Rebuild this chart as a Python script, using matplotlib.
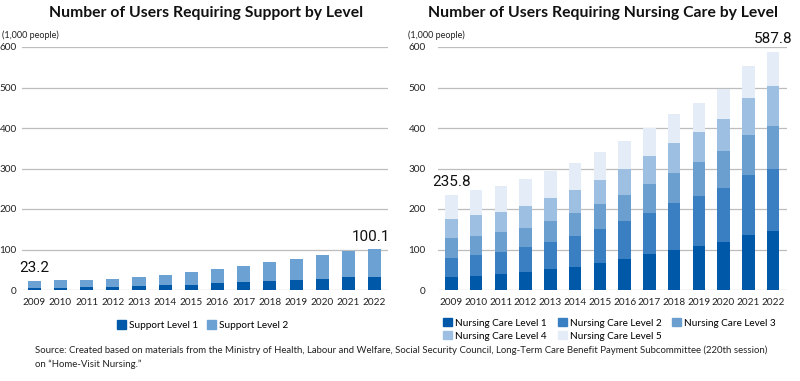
import numpy as np
import matplotlib
matplotlib.use("Agg")
from matplotlib import pyplot as plt
from matplotlib.patches import Patch

plt.rcParams['font.family'] = ['Lato', 'DejaVu Sans']

# dane (tys. osob)
years = ["2009", "2010", "2011", "2012", "2013", "2014", "2015",
         "2016", "2017", "2018", "2019", "2020", "2021", "2022"]

support_1 = [6, 6, 7.5, 8.3, 10, 11.7, 13.3, 16.7, 20, 22.5, 25, 27.5, 31.7, 33.3]
support_total = [23.2, 24.5, 25.5, 27.5, 32.5, 37.5, 45, 51.7, 60, 69, 77.5, 86.7, 97.5, 100.1]
support_2 = [t - a for t, a in zip(support_total, support_1)]

# wartosci skumulowane
care_cum1 = [31, 35, 39, 44, 51, 58, 66, 76, 88, 100, 108, 119, 137, 145]
care_cum2 = [80, 86, 95, 106, 119, 133, 150, 170, 191, 215, 233, 253, 285, 300]
care_cum3 = [128, 134, 142, 154, 171, 189, 212, 235, 261, 290, 315, 342, 383, 405]
care_cum4 = [176, 184, 192, 207, 226, 248, 272, 300, 330, 363, 390, 422, 474, 504]
care_total = [235.8, 247, 258, 275, 294, 314, 341, 368, 401, 435, 462, 496, 554, 587.8]

care_levels = [
    np.array(care_cum1),
    np.array(care_cum2) - np.array(care_cum1),
    np.array(care_cum3) - np.array(care_cum2),
    np.array(care_cum4) - np.array(care_cum3),
    np.array(care_total) - np.array(care_cum4),
]
care_names = ["Nursing Care Level 1", "Nursing Care Level 2", "Nursing Care Level 3",
              "Nursing Care Level 4", "Nursing Care Level 5"]
care_colors = ["#0058a8", "#3a7fc2", "#6a9fcf", "#9dc0e2", "#e4edf7"]
support_names = ["Support Level 1", "Support Level 2"]
support_colors = ["#0058a8", "#6ba1d3"]

W, H = 800, 381
fig = plt.figure(figsize=(W / 100, H / 100), dpi=100)


def px_axes(x0, x1, y_top, y_bot):
    return fig.add_axes([x0 / W, 1 - y_bot / H, (x1 - x0) / W, (y_bot - y_top) / H])


def styl(ax, pad):
    ax.set_ylim(0, 600)
    ax.set_yticks(range(0, 601, 100))
    ax.grid(axis="y", color="#bdbdbd", lw=0.9)
    ax.set_axisbelow(True)
    for s in ax.spines.values():
        s.set_visible(False)
    ax.tick_params(axis="both", length=0, labelsize=7.2, colors="#222222")
    ax.tick_params(axis="y", pad=pad)
    ax.tick_params(axis="x", pad=6)
    ax.set_xticks(range(len(years)))
    ax.set_xticklabels(years)


x = np.arange(len(years))

# lewy wykres
ax1 = px_axes(21.7, 387.7, 47, 290)
ax1.bar(x, support_1, width=0.5, color=support_colors[0])
ax1.bar(x, support_2, width=0.5, bottom=support_1, color=support_colors[1])
ax1.set_xlim(-0.48, 13.5)
styl(ax1, 3.5)
ax1.annotate("23.2", (0, support_total[0]), xytext=(0, 4), textcoords="offset points",
             ha="center", va="bottom", fontsize=11, family="Roboto", color="#111111")
ax1.annotate("100.1", (13, support_total[-1]), xytext=(-3, 4), textcoords="offset points",
             ha="center", va="bottom", fontsize=11, family="Roboto", color="#111111")

# prawy wykres
ax2 = px_axes(437.7, 786.7, 47, 290)
bottom = np.zeros(len(years))
for vals, col in zip(care_levels, care_colors):
    ax2.bar(x, vals, width=0.5, bottom=bottom, color=col)
    bottom = bottom + vals
ax2.set_xlim(-0.55, 13.55)
styl(ax2, 8.5)
ax2.annotate("235.8", (0, care_total[0]), xytext=(0, 4), textcoords="offset points",
             ha="center", va="bottom", fontsize=11, family="Roboto", color="#111111")
ax2.annotate("587.8", (13, care_total[-1]), xytext=(0, 4.5), textcoords="offset points",
             ha="center", va="bottom", fontsize=11, family="Roboto", color="#111111")

# tytuly i opisy
fig.text(205.8 / W, 1 - 12.7 / H, "Number of Users Requiring Support by Level",
         ha="center", va="center", fontsize=11.3, fontweight="bold", color="#111111")
fig.text(603 / W, 1 - 12.7 / H, "Number of Users Requiring Nursing Care by Level",
         ha="center", va="center", fontsize=11.3, fontweight="bold", color="#111111")
fig.text(2 / W, 1 - 35 / H, "(1,000 people)", ha="left", va="center", fontsize=6.5, color="#222222")
fig.text(408.3 / W, 1 - 35 / H, "(1,000 people)", ha="left", va="center", fontsize=6.5, color="#222222")

# legendy
h1 = [Patch(color=c) for c in support_colors]
fig.legend(h1, support_names, loc="center", bbox_to_anchor=(203 / W, 1 - 325 / H), ncol=2,
           frameon=False, fontsize=7.2, handlelength=0.9, handleheight=0.9,
           handletextpad=0.3, columnspacing=0.9)
h2 = [Patch(color=c) for c in care_colors]
order = [0, 3, 1, 4, 2]
fig.legend([h2[i] for i in order], [care_names[i] for i in order], loc="upper left",
           bbox_to_anchor=(436 / W, 1 - 311 / H), ncol=3, frameon=False, fontsize=7.2,
           handlelength=0.9, handleheight=0.9, handletextpad=0.3, columnspacing=1.1,
           labelspacing=0.35, borderpad=0.2)

fig.text(35 / W, 1 - 350.7 / H,
         "Source: Created based on materials from the Ministry of Health, Labour and Welfare, "
         "Social Security Council, Long-Term Care Benefit Payment Subcommittee (220th session)",
         ha="left", va="center", fontsize=6.9, color="#222222")
fig.text(35 / W, 1 - 364 / H, "on \u201cHome-Visit Nursing.\u201d",
         ha="left", va="center", fontsize=6.9, color="#222222")

fig.savefig("out.png", dpi=100)
